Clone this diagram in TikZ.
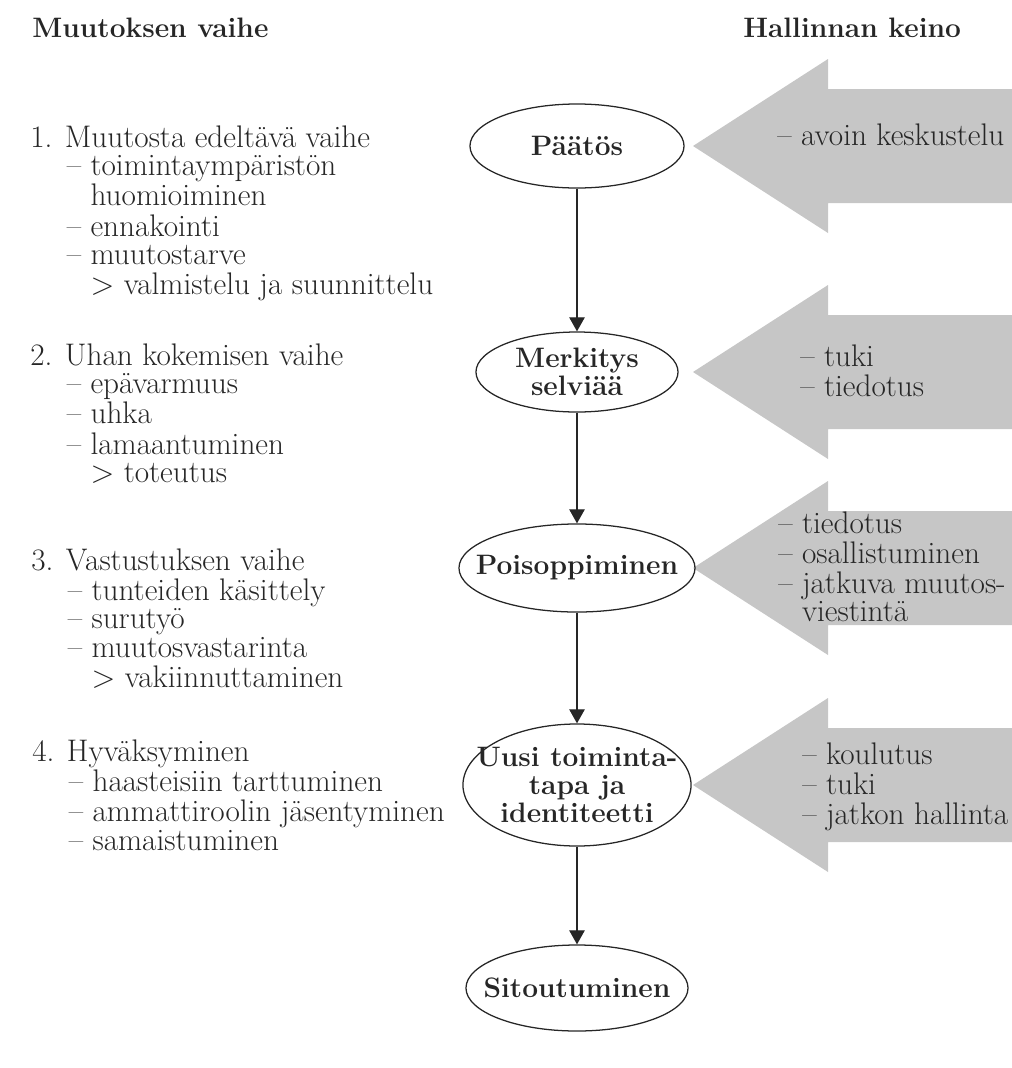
\documentclass[tikz,border=0pt]{standalone}
\usepackage{fontspec}
\usetikzlibrary{shapes.geometric,arrows.meta}

\colorlet{ink}{black!85}
\colorlet{keinogray}{gray!45}
\newcommand{\sisennys}{\hspace*{26pt}}
\newcommand{\jatko}{\hspace*{26pt}\hphantom{– }}
\newcommand{\rivit}[1]{\begin{tabular}[t]{@{}l@{}}#1\end{tabular}}

\tikzset{
    stage/.style={ellipse, draw=ink, line width=0.9pt, inner sep=-20pt, align=center,
        text=ink, font=\bfseries\fontsize{20}{20}\selectfont},
    vaihe/.style={anchor=base west, inner sep=0pt, text=ink, font=\fontsize{22.2}{20.3}\selectfont},
    keinotext/.style={anchor=base west, inner sep=0pt, text=ink, font=\fontsize{22.2}{19.8}\selectfont},
    otsikko/.style={anchor=base west, inner sep=0pt, text=ink, font=\bfseries\fontsize{20}{20}\selectfont},
    conn/.style={draw=ink, line width=0.9pt, -{Triangle[length=10pt,width=11pt]}}
}

\begin{document}
\begin{tikzpicture}[x=0.025cm, y=-0.025cm]
        \useasboundingbox (0,0) rectangle (1012,1068);
        % --- Headers ---
        \node[otsikko] (otsvaihe) at (32,37) {Muutoksen vaihe};
        \node[otsikko] (otskeino) at (743,37) {Hallinnan keino};

        % --- Grey arrows ---
        \foreach \y in {146,372,568,785}
            \fill[keinogray] (693,\y) -- (828,\y-87) -- (828,\y-57) -- (1012,\y-57)
                -- (1012,\y+57) -- (828,\y+57) -- (828,\y+87) -- cycle;

        % --- Stages ---
        \node[stage, minimum width=5.35cm, minimum height=2.1cm] (paatos) at (577,146) {Päätös};
        \node[stage, minimum width=5.05cm, minimum height=2cm] (merkitys) at (577,372) {Merkitys\\selviää};
        \node[stage, minimum width=5.9cm, minimum height=2.2cm] (poisopp) at (577,568) {Poisoppiminen};
        \node[stage, minimum width=5.7cm, minimum height=3.05cm] (uusi) at (577,785) {Uusi toiminta-\\tapa ja\\identiteetti};
        \node[stage, minimum width=5.55cm, minimum height=2.15cm] (sitout) at (577,988) {Sitoutuminen};

        \foreach \a/\b in {paatos/merkitys, merkitys/poisopp, poisopp/uusi, uusi/sitout}
            \draw[conn] (\a) -- (\b);

        % --- Phases (left) ---
        \node[vaihe] (vaihe1) at (30,147) {\rivit{1. Muutosta edeltävä vaihe\\
            \sisennys– toimintaympäristön\\ \jatko huomioiminen\\
            \sisennys– ennakointi\\ \sisennys– muutostarve\\
            \jatko> valmistelu ja suunnittelu}};
        \node[vaihe] (vaihe2) at (30,365) {\rivit{2. Uhan kokemisen vaihe\\
            \sisennys– epävarmuus\\ \sisennys– uhka\\ \sisennys– lamaantuminen\\
            \jatko> toteutus}};
        \node[vaihe] (vaihe3) at (31,570) {\rivit{3. Vastustuksen vaihe\\
            \sisennys– tunteiden käsittely\\ \sisennys– surutyö\\ \sisennys– muutosvastarinta\\
            \jatko> vakiinnuttaminen}};
        \node[vaihe] (vaihe4) at (32,761) {\rivit{4. Hyväksyminen\\
            \sisennys– haasteisiin tarttuminen\\ \sisennys– ammattiroolin jäsentyminen\\
            \sisennys– samaistuminen}};

        % --- Means (right) ---
        \node[keinotext] (keino1) at (777,145) {– avoin keskustelu};
        \node[keinotext] (keino2) at (800,366) {\rivit{– tuki\\ – tiedotus}};
        \node[keinotext] (keino3) at (778,533) {\rivit{– tiedotus\\ – osallistuminen\\
            – jatkuva muutos-\\ \hphantom{– }viestintä}};
        \node[keinotext] (keino4) at (802,764) {\rivit{– koulutus\\ – tuki\\ – jatkon hallinta}};
    \end{tikzpicture}
\end{document}
